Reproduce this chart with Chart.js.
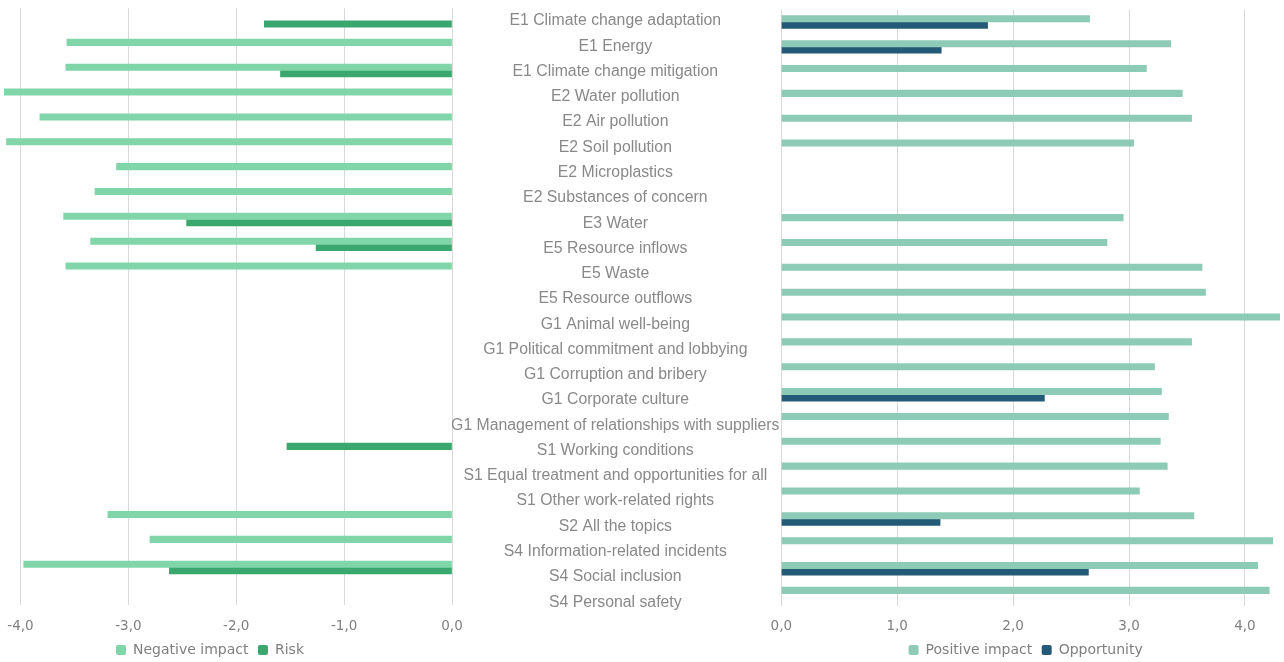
<!DOCTYPE html>
<html>
<head>
<meta charset="utf-8">
<script src="https://cdn.jsdelivr.net/npm/chart.js@4.4.0/dist/chart.umd.min.js"></script>
<style>
body { margin: 0; background: #fff; width: 1284px; height: 662px; overflow: hidden; position: relative; }
canvas { position: absolute; top: 0; }
#leftChart { left: 0; }
#rightChart { left: 700px; }
#labelChart { left: 452px; }
</style>
</head>
<body>
<canvas id="leftChart" width="781" height="662"></canvas>
<canvas id="rightChart" width="584" height="662"></canvas>
<canvas id="labelChart" width="329" height="662"></canvas>
<script>
// Topics (shared by both panels)
const topics = [
    'E1 Climate change adaptation', 'E1 Energy', 'E1 Climate change mitigation',
    'E2 Water pollution', 'E2 Air pollution', 'E2 Soil pollution', 'E2 Microplastics',
    'E2 Substances of concern', 'E3 Water', 'E5 Resource inflows', 'E5 Waste',
    'E5 Resource outflows', 'G1 Animal well-being', 'G1 Political commitment and lobbying',
    'G1 Corruption and bribery', 'G1 Corporate culture',
    'G1 Management of relationships with suppliers', 'S1 Working conditions',
    'S1 Equal treatment and opportunities for all', 'S1 Other work-related rights',
    'S2 All the topics', 'S4 Information-related incidents', 'S4 Social inclusion',
    'S4 Personal safety'
];

// Left panel values
const negativeImpact = [null, -3.57, -3.58, -4.15, -3.82, -4.13, -3.11, -3.31, -3.60, -3.35, -3.58,
    null, null, null, null, null, null, null, null, null, -3.19, -2.80, -3.97, null];
const risk = [-1.74, null, -1.59, null, null, null, null, null, -2.46, -1.26, null,
    null, null, null, null, null, null, -1.53, null, null, null, null, -2.62, null];

// Right panel values
const positiveImpact = [2.66, 3.36, 3.15, 3.46, 3.54, 3.04, null, null, 2.95, 2.81, 3.63,
    3.66, 4.30, 3.54, 3.22, 3.28, 3.34, 3.27, 3.33, 3.09, 3.56, 4.24, 4.11, 4.21];
const opportunity = [1.78, 1.38, null, null, null, null, null, null, null, null, null,
    null, null, null, null, 2.27, null, null, null, null, 1.37, null, 2.65, null];

// Tick labels
const leftTicks = [-4, -3, -2, -1, 0];
const rightTicks = [0, 1, 2, 3, 4];

const tickColor = '#7f7f7f';
const tickFont = { family: 'DejaVu Sans', size: 13.5 };
const fmt = v => v.toFixed(1).replace('.', ',');

function legendOpts() {
    return {
        position: 'bottom',
        fullSize: false,
        maxHeight: 28.5,
        labels: {
            color: tickColor,
            font: { family: 'DejaVu Sans', size: 14 },
            boxWidth: 10,
            boxHeight: 10,
            useBorderRadius: true,
            borderRadius: 2,
            padding: 9.5
        }
    };
}

// Nudge the legend sideways after layout
function shiftLegend(dx) {
    return {
        id: 'shiftLegend',
        afterLayout(chart) {
            chart.legend.left += dx;
            chart.legend.right += dx;
        }
    };
}

// Left: negative impact vs risk
new Chart(document.getElementById('leftChart'), {
    type: 'bar',
    data: {
        labels: topics,
        datasets: [{
            label: 'Negative impact',
            data: negativeImpact,
            backgroundColor: '#80d6a9',
            barThickness: 6.4
        }, {
            label: 'Risk',
            data: risk,
            backgroundColor: '#3aa86e',
            barThickness: 6.4
        }]
    },
    plugins: [shiftLegend(-16)],
    options: {
        indexAxis: 'y',
        responsive: false,
        animation: false,
        layout: { padding: { top: 8.3, bottom: 0 } },
        plugins: { legend: legendOpts(), tooltip: { enabled: false } },
        scales: {
            x: {
                min: -4.19,
                max: 0,
                afterBuildTicks: s => { s.ticks = leftTicks.map(v => ({ value: v })); },
                afterFit: s => { s.height = 28.8; s.paddingLeft = 0; },
                ticks: { color: tickColor, font: tickFont, padding: 13.5, callback: fmt },
                grid: { color: '#d9d9d9', drawTicks: false },
                border: { display: false }
            },
            y: {
                position: 'right',
                offset: true,
                ticks: { display: false },
                grid: { display: false },
                border: { display: false },
                afterFit: s => { s.width = 329; }
            }
        }
    }
});

// Right: positive impact vs opportunity
new Chart(document.getElementById('rightChart'), {
    type: 'bar',
    data: {
        labels: topics,
        datasets: [{
            label: 'Positive impact',
            data: positiveImpact,
            backgroundColor: '#8ecbb6',
            barThickness: 6.4
        }, {
            label: 'Opportunity',
            data: opportunity,
            backgroundColor: '#235a78',
            barThickness: 6.4
        }]
    },
    plugins: [shiftLegend(-6)],
    options: {
        indexAxis: 'y',
        responsive: false,
        animation: false,
        layout: { padding: { top: 9.6, right: 2, bottom: 0 } },
        plugins: { legend: legendOpts(), tooltip: { enabled: false } },
        scales: {
            x: {
                min: 0,
                max: 4.32,
                afterBuildTicks: s => { s.ticks = rightTicks.map(v => ({ value: v })); },
                afterFit: s => { s.height = 27.5; },
                ticks: { color: tickColor, font: tickFont, padding: 12.2, callback: fmt },
                grid: { color: '#d9d9d9', drawTicks: false },
                border: { display: false }
            },
            y: {
                position: 'left',
                offset: true,
                ticks: { display: false },
                grid: { display: false },
                border: { display: false },
                afterFit: s => { s.width = 81.3; }
            }
        }
    }
});

// Middle: topic labels
new Chart(document.getElementById('labelChart'), {
    type: 'bar',
    data: { labels: topics, datasets: [] },
    options: {
        indexAxis: 'y',
        responsive: false,
        animation: false,
        layout: { padding: { top: 8.4, bottom: 47.2 } },
        plugins: { legend: { display: false }, tooltip: { enabled: false } },
        scales: {
            x: { display: false },
            y: {
                type: 'category',
                position: 'left',
                offset: true,
                ticks: {
                    color: '#898989',
                    font: { family: 'Liberation Sans', size: 15.8 },
                    padding: -6.5,
                    crossAlign: 'center'
                },
                grid: { display: false },
                border: { display: false },
                afterFit: s => { s.width = 329; }
            }
        }
    }
});
</script>
</body>
</html>
